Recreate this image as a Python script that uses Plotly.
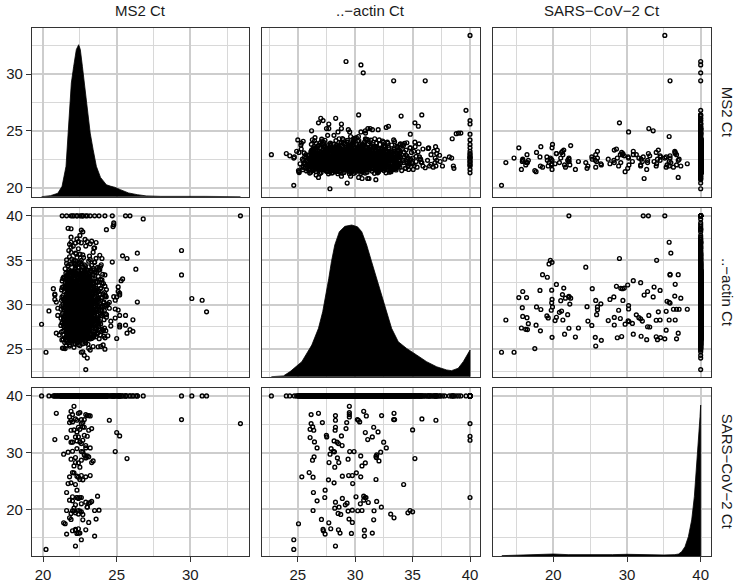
import plotly.graph_objects as go

FONT = "Liberation Sans, Arial, Helvetica, sans-serif"

# ---------------- data ----------------
var_labels = ["MS2 Ct", "..\u2212actin Ct", "SARS\u2212CoV\u22122 Ct"]

# samples with a SARS-CoV-2 signal (Ct < 40)
pos_actin = [
    26.16, 26.80, 27.14, 28.28, 28.28, 29.49, 29.49, 29.49, 29.49, 30.74,
    30.97, 30.19, 30.28, 30.39, 32.30, 33.38, 33.35, 33.43, 35.81, 37.03,
    40.0, 26.16, 26.30, 26.07, 26.39, 26.07, 26.45, 26.68, 27.49, 27.52,
    28.28, 28.25, 28.16, 28.80, 29.26, 29.20, 28.42, 28.54, 28.86, 31.61,
    31.99, 30.88, 31.09, 31.49, 32.48, 32.71, 35.00, 40.0, 40.0, 27.90,
    28.10, 28.19, 27.81, 27.72, 28.45, 28.57, 28.22, 29.52, 29.90, 29.38,
    30.48, 30.88, 30.59, 31.87, 31.84, 32.07, 32.22, 31.81, 35.20, 26.28,
    26.42, 25.99, 25.35, 26.33, 27.67, 28.16, 28.88, 29.43, 29.75, 30.10,
    30.48, 29.78, 31.81, 34.22, 26.36, 27.38, 26.68, 27.35, 26.33, 28.28,
    28.22, 28.88, 28.59, 29.14, 29.29, 29.38, 28.51, 28.74, 29.75, 30.07,
    30.74, 30.86, 30.94, 30.74, 30.45, 31.14, 30.22, 30.59, 31.87, 31.64,
    32.28, 31.61, 33.09, 33.38, 34.59, 34.77, 35.00, 40.0, 27.06, 27.70,
    27.20, 27.23, 27.38, 27.87, 28.54, 28.68, 29.46, 29.75, 29.67, 30.80,
    30.80, 31.49, 25.06, 24.65, 24.65, 28.28]
pos_sars = [
    36.72, 36.95, 35.31, 36.54, 35.72, 38.18, 37.07, 36.72, 36.30, 37.30,
    36.48, 35.84, 35.72, 35.43, 36.54, 36.95, 35.84, 35.84, 35.95, 35.72,
    35.13, 35.13, 34.55, 34.13, 33.96, 32.67, 31.91, 30.85, 33.08, 32.79,
    34.49, 33.96, 32.08, 32.96, 35.31, 34.25, 31.85, 31.61, 31.26, 34.49,
    33.67, 33.55, 32.32, 32.79, 31.85, 30.85, 34.02, 32.90, 32.20, 30.73,
    30.26, 30.15, 29.74, 28.27, 29.09, 28.27, 27.45, 30.21, 30.21, 28.86,
    29.44, 28.21, 27.68, 29.62, 29.15, 28.56, 30.09, 29.38, 28.97, 28.68,
    29.27, 26.51, 25.75, 25.69, 25.22, 24.69, 25.87, 25.98, 25.98, 26.45,
    25.75, 24.57, 25.28, 24.40, 22.99, 23.40, 21.52, 22.11, 19.82, 21.29,
    20.23, 21.94, 20.41, 20.82, 21.11, 19.71, 19.30, 19.12, 19.88, 22.23,
    22.35, 22.11, 22.11, 21.64, 21.00, 21.23, 19.77, 19.82, 21.41, 19.77,
    20.41, 18.18, 19.18, 18.53, 19.41, 19.82, 19.59, 22.11, 18.24, 17.65,
    16.48, 16.25, 15.66, 16.60, 16.42, 15.84, 18.30, 17.71, 15.78, 16.36,
    15.31, 15.84, 17.48, 14.66, 12.96, 13.55]
pos_ms2 = [
    22.0, 20.9, 21.8, 23.0, 22.3, 22.1, 22.5, 22.9, 21.8, 21.9,
    23.2, 22.6, 24.5, 22.0, 23.1, 22.4, 29.4, 22.8, 22.2, 21.9,
    33.4, 22.6, 22.7, 22.5, 23.1, 21.6, 22.5, 22.9, 22.8, 22.2,
    22.4, 21.9, 22.3, 25.2, 22.7, 23.3, 22.0, 22.6, 22.9, 22.8,
    22.3, 25.0, 20.8, 22.4, 21.9, 23.2, 22.1, 23.0, 22.7, 22.3,
    22.0, 22.7, 21.4, 22.2, 22.9, 23.3, 22.5, 24.9, 22.6, 21.9,
    23.0, 22.4, 22.1, 22.8, 22.2, 23.4, 21.7, 22.9, 25.7, 22.6,
    23.1, 22.0, 21.8, 22.4, 22.7, 21.9, 22.3, 23.2, 22.6, 22.1,
    22.9, 21.7, 22.5, 22.2, 21.6, 22.3, 22.0, 22.6, 21.6, 22.9,
    22.1, 22.4, 23.0, 22.2, 23.1, 22.5, 21.9, 22.7, 23.8, 22.0,
    23.7, 22.3, 22.5, 21.8, 22.6, 23.2, 22.1, 22.4, 23.3, 22.0,
    23.0, 22.7, 22.4, 21.8, 22.2, 23.5, 22.6, 22.3, 21.9, 21.4,
    22.2, 22.0, 21.6, 22.4, 22.9, 22.5, 23.6, 23.1, 22.3, 22.2,
    23.5, 22.4, 21.5, 22.6, 20.2, 22.2]

# samples without a SARS-CoV-2 signal (Ct = 40): spread and outliers
neg_ms2 = [
    22.9, 23.0, 22.8, 22.7, 21.4, 23.2,
    22.1, 22.5, 21.8, 23.4, 22.9, 22.3, 21.6, 22.7, 22.0, 23.1, 22.4, 24.2,
    25.0, 21.1, 23.9, 25.7, 22.2, 22.6, 21.9, 22.8, 23.3, 22.4, 21.7, 22.1, 23.0,
    22.5, 22.3, 21.5, 23.6, 22.0, 22.7, 22.9, 21.8, 22.45, 23.2, 22.2, 24.4,
    26.1, 25.9, 25.2, 25.2, 19.9, 25.6, 22.3, 22.6, 21.9, 22.8, 23.1, 22.0, 22.5,
    21.6, 23.4, 22.2, 22.7, 21.8, 22.4, 23.0, 22.1, 22.9, 21.7, 23.6, 22.35, 22.65,
    21.5, 22.85, 23.25, 22.05, 24.1, 24.6, 22.55, 21.95, 22.25, 23.8, 22.75, 21.45,
    26.1, 25.6, 21.0, 24.9, 22.4, 22.7, 22.1, 22.9, 21.8, 22.5, 23.2, 22.2, 22.6,
    21.6, 23.0, 22.3, 22.8, 21.9, 23.5, 22.45, 22.05, 22.65, 23.3, 21.7, 22.95,
    22.15, 22.55, 23.7, 22.35, 21.55, 22.85, 23.1, 22.25, 21.85, 24.3, 22.5, 23.9,
    22.0, 22.75, 21.4, 23.4, 22.6, 24.6, 22.4, 21.95,
    20.4, 21.0, 31.1, 22.3, 22.6, 22.0, 22.9, 21.7, 22.4, 23.2, 22.1, 22.7, 21.9,
    22.5, 23.0, 22.2, 22.8, 21.6, 23.4, 22.35, 22.65, 22.05, 23.1, 21.8, 22.45,
    22.95, 22.15, 23.6, 22.55, 21.5, 22.85, 22.25, 23.3, 22.75, 21.95, 24.0, 22.6,
    24.5, 22.4, 23.8, 22.1, 21.75, 23.05, 22.3, 24.2, 25.1, 22.9, 22.5,
    20.9, 20.8, 24.8, 24.9, 26.4, 30.1, 30.8, 22.4, 22.7, 22.1, 22.9, 21.8, 22.5,
    23.2, 22.2, 22.6, 21.7, 23.0, 22.3, 22.8, 21.9, 23.4, 22.45, 22.05, 22.65,
    23.1, 21.6, 22.95, 22.15, 22.55, 23.6, 22.35, 21.85, 22.85, 23.3, 22.25, 24.1,
    23.8, 22.5, 21.5, 22.75, 24.4, 22.0, 23.5,
    20.7, 20.8, 25.1, 25.2, 25.2, 22.3, 22.6, 22.0, 22.9, 21.7, 22.4, 23.2, 22.1,
    22.7, 21.9, 22.5, 23.0, 22.2, 22.8, 21.6, 23.4, 22.35, 22.65, 22.05, 23.1,
    22.45, 22.95, 21.8, 23.7, 22.55, 24.3, 22.15, 22.85, 23.9, 22.4,
    25.1, 25.3, 25.4, 22.4, 22.7, 22.1, 22.9, 21.8, 22.5, 23.2, 22.2, 22.6, 23.0,
    22.3, 21.7, 22.8, 23.4, 22.0, 22.45, 23.1, 22.65, 21.9, 23.6, 24.0, 22.35,
    22.4, 22.7, 22.1, 22.9, 21.8, 22.5, 23.2, 22.2, 22.6, 23.0, 22.3, 23.5, 21.6,
    22.8, 24.2, 23.8, 22.0,
    26.3, 24.7, 23.9, 22.4, 22.8, 22.1, 23.1, 21.7, 22.6, 23.4,
    25.4, 26.4, 24.0, 22.3, 22.7, 21.9, 23.2, 22.5,
    29.4, 22.4, 22.9, 21.8, 23.5, 22.2,
    23.0, 23.3, 23.6, 21.9, 22.5, 22.3,
    21.7, 22.6, 22.7, 24.3, 24.8, 24.75, 26.8, 21.9, 24.8,
    21.3, 21.6, 21.9, 22.1, 22.3, 22.5, 22.7, 22.9, 23.2, 23.5, 23.8, 24.2, 24.7,
    25.6, 25.9, 22.0, 22.6]
neg_actin = [
    22.7, 24.0, 24.3, 24.7, 25.1, 24.9,
    25.2, 25.4, 25.5, 25.3, 25.7, 25.8, 25.9, 25.6, 25.95, 25.1, 25.5, 25.0,
    26.2, 26.6, 26.6, 26.8, 26.1, 26.3, 26.4, 26.5, 26.2, 26.7, 26.9, 26.05, 26.75,
    26.55, 26.85, 26.3, 26.4, 26.6, 26.95, 26.15, 26.45, 26.25, 26.9, 26.7, 26.5,
    27.0, 27.2, 27.5, 27.7, 27.8, 27.7, 27.1, 27.3, 27.4, 27.05, 27.6, 27.8, 27.9,
    27.25, 27.45, 27.65, 27.15, 27.85, 27.55, 27.35, 27.95, 27.75, 27.6, 27.2, 27.0, 27.5,
    27.9, 27.3, 27.8, 27.45, 27.1, 27.6, 27.7, 27.15, 27.35, 27.9, 27.95, 27.55,
    28.3, 28.8, 28.8, 28.5, 28.1, 28.2, 28.4, 28.6, 28.7, 28.9, 28.3, 28.55, 28.75,
    28.15, 28.45, 28.65, 28.05, 28.85, 28.25, 28.95, 28.35, 28.5, 28.8, 28.6, 28.9,
    28.2, 28.7, 28.4, 28.0, 28.45, 28.3, 28.65, 28.85, 28.1, 28.6, 28.25, 28.95,
    28.55, 28.4, 28.3, 28.05, 28.95, 28.15, 28.7, 28.75,
    29.3, 29.6, 29.2, 29.1, 29.2, 29.4, 29.5, 29.7, 29.8, 29.9, 29.05, 29.35, 29.55,
    29.65, 29.75, 29.95, 29.15, 29.45, 29.25, 29.85, 29.0, 29.6, 29.4, 29.9, 29.5,
    29.7, 29.3, 29.55, 29.1, 29.8, 29.95, 29.2, 29.65, 29.45, 29.05, 29.3, 29.85,
    29.6, 29.25, 29.9, 29.7, 29.35, 29.15, 29.55, 29.8, 29.4, 29.0, 29.9,
    30.3, 30.6, 30.9, 30.5, 30.3, 30.7, 30.5, 30.1, 30.2, 30.4, 30.6, 30.8, 30.95,
    30.05, 30.35, 30.55, 30.75, 30.15, 30.45, 30.65, 30.85, 30.25, 30.0, 30.5, 30.7,
    30.9, 30.2, 30.4, 30.6, 30.8, 30.55, 30.95, 30.1, 30.3, 30.75, 30.45, 30.2,
    30.65, 30.35, 30.55, 30.85, 30.1, 30.7, 30.4,
    31.8, 31.2, 31.5, 31.1, 31.3, 31.05, 31.2, 31.4, 31.6, 31.8, 31.95, 31.15, 31.35,
    31.55, 31.75, 31.9, 31.1, 31.3, 31.5, 31.7, 31.25, 31.45, 31.65, 31.85, 31.0,
    31.6, 31.8, 31.15, 31.4, 31.95, 31.7, 31.55, 31.25, 31.85, 31.35,
    32.0, 32.7, 32.9, 32.1, 32.3, 32.5, 32.7, 32.9, 32.2, 32.4, 32.6, 32.8, 32.05,
    32.35, 32.55, 32.75, 32.95, 32.15, 32.45, 32.65, 32.85, 32.25, 32.5, 32.8, 32.95,
    33.1, 33.3, 33.5, 33.7, 33.9, 33.2, 33.4, 33.6, 33.8, 33.05, 33.45, 33.65, 33.25,
    33.85, 33.35, 33.95, 33.75,
    34.0, 34.8, 34.3, 34.2, 34.5, 34.7, 34.9, 34.4, 34.6, 34.1,
    35.5, 35.8, 35.2, 35.3, 35.6, 35.9, 35.1, 35.7,
    36.1, 36.3, 36.6, 36.8, 36.4, 36.95,
    37.1, 37.15, 37.0, 37.6, 37.8, 37.4,
    38.6, 38.4, 38.2, 38.45, 39.0, 38.8, 39.65, 38.55, 39.2,
    40.0, 40.0, 40.0, 40.0, 40.0, 40.0, 40.0, 40.0, 40.0, 40.0, 40.0, 40.0, 40.0,
    40.0, 40.0, 40.0, 40.0]

# more Ct = 40 samples from the dense centre of the cloud
core_ms2 = [
    22.18, 22.64, 21.92, 23.05, 22.41, 21.71, 22.87, 22.29,
    22.33, 21.86, 22.71, 23.18, 22.05, 22.52, 21.67, 22.94, 22.26, 23.42, 21.98, 22.61,
    22.44, 21.78, 22.83, 22.16, 23.27, 22.58, 21.95, 22.69, 23.08, 22.31, 21.59, 22.97,
    22.22, 23.51, 22.49, 21.88,
    22.36, 22.78, 21.84, 23.12, 22.57, 22.09, 22.91, 21.69, 22.43, 23.34, 22.19, 22.66,
    21.97, 23.03, 22.52, 21.76, 22.87, 22.28, 23.61, 22.01,
    22.47, 21.91, 22.73, 23.16, 22.24, 22.62, 21.73, 22.98, 22.35, 23.41, 22.06, 22.81,
    21.62, 22.55, 23.07, 22.17, 22.69, 21.87, 23.28, 22.42, 21.99, 22.89, 23.73, 22.31,
    22.38, 22.81, 21.94, 23.11, 22.56, 22.13, 22.92, 21.74, 22.47, 23.36, 22.21, 22.68,
    21.83, 23.02, 22.53, 22.04, 22.86, 21.66, 23.22, 22.44, 22.77, 21.96, 23.54, 22.28,
    22.63, 22.09,
    22.42, 21.89, 22.76, 23.19, 22.27, 22.61, 21.78, 22.99, 22.33, 23.44, 22.08, 22.84,
    21.68, 22.51, 23.09, 22.16, 22.72, 21.92, 23.31, 22.46, 22.02, 22.93, 23.67, 22.37,
    21.81, 22.64, 23.13, 22.24,
    22.35, 22.79, 21.93, 23.14, 22.58, 22.11, 22.94, 21.72, 22.48, 23.38, 22.19, 22.67,
    21.85, 23.04, 22.54, 22.03, 22.88, 21.64, 23.24, 22.43, 22.76, 21.97, 23.58, 22.29,
    22.62, 22.07, 23.01, 22.39,
    22.46, 21.87, 22.74, 23.17, 22.26, 22.63, 21.76, 22.97, 22.34, 23.43, 22.06, 22.82,
    21.66, 22.56, 23.08, 22.14, 22.71, 21.91, 23.29, 22.41, 22.01, 22.91, 23.71, 22.32,
    21.79, 22.66, 23.12, 22.23,
    22.37, 22.83, 21.95, 23.13, 22.57, 22.12, 22.93, 21.73, 22.49, 23.37, 22.18, 22.69,
    21.84, 23.06, 22.52, 22.02, 22.87, 21.65, 23.23, 22.45, 22.78, 21.98, 23.56, 22.27,
    22.64, 22.08,
    22.48, 21.92, 22.72, 23.18, 22.23, 22.61, 21.74, 22.99, 22.36, 23.42, 22.07, 22.83,
    21.63, 22.54, 23.09, 22.16, 22.68, 21.88, 23.27, 22.43, 21.97, 22.88, 23.76, 22.31,
    22.39, 22.77, 21.86, 23.14, 22.56, 22.08, 22.92, 21.71, 22.44, 23.33, 22.21, 22.65,
    21.96, 23.04, 22.51, 21.79, 22.86, 22.27, 23.59, 22.02,
    22.45, 21.81, 22.84, 22.17, 23.26, 22.59, 21.94, 22.68, 23.07, 22.32, 21.62, 22.96,
    22.22, 23.49, 22.48, 21.89,
    22.34, 21.87, 22.72, 23.19, 22.06, 22.53, 21.68, 22.95, 22.27, 23.41, 21.99, 22.62,
    22.81, 22.14,
    22.43, 21.79, 22.86, 22.18, 23.28, 22.57, 21.97, 22.71, 23.06, 22.29, 22.64, 21.91,
    22.36, 22.78, 21.88, 23.12, 22.54, 22.09, 22.91, 21.73, 22.47,
    22.41, 21.93, 22.75, 23.21, 22.24, 22.66, 21.82,
    22.38, 22.87, 21.96, 23.11, 22.52, 22.17]
core_actin = [
    25.62, 25.78, 25.91, 25.55, 25.84, 25.68, 25.97, 25.73,
    26.08, 26.22, 26.35, 26.14, 26.41, 26.03, 26.28, 26.47, 26.19, 26.33, 26.11, 26.38,
    26.58, 26.72, 26.64, 26.87, 26.53, 26.91, 26.66, 26.79, 26.97, 26.61, 26.84, 26.56,
    26.93, 26.69, 26.76, 26.89,
    27.03, 27.18, 27.31, 27.09, 27.44, 27.22, 27.37, 27.13, 27.48, 27.26, 27.07, 27.41,
    27.16, 27.34, 27.02, 27.29, 27.46, 27.11, 27.38, 27.24,
    27.53, 27.68, 27.82, 27.57, 27.94, 27.61, 27.77, 27.88, 27.52, 27.72, 27.97, 27.64,
    27.83, 27.58, 27.91, 27.66, 27.79, 27.55, 27.86, 27.71, 27.98, 27.63, 27.81, 27.93,
    28.04, 28.17, 28.31, 28.08, 28.43, 28.22, 28.36, 28.12, 28.47, 28.26, 28.06, 28.39,
    28.15, 28.33, 28.02, 28.28, 28.45, 28.11, 28.37, 28.24, 28.49, 28.19, 28.41, 28.07,
    28.34, 28.21,
    28.53, 28.68, 28.82, 28.57, 28.94, 28.61, 28.77, 28.88, 28.52, 28.72, 28.97, 28.64,
    28.83, 28.58, 28.91, 28.66, 28.79, 28.55, 28.86, 28.71, 28.98, 28.63, 28.81, 28.93,
    28.59, 28.74, 28.67, 28.89,
    29.04, 29.18, 29.32, 29.08, 29.44, 29.22, 29.36, 29.12, 29.47, 29.26, 29.06, 29.39,
    29.16, 29.34, 29.02, 29.28, 29.46, 29.11, 29.37, 29.24, 29.49, 29.19, 29.41, 29.07,
    29.33, 29.21, 29.14, 29.43,
    29.53, 29.68, 29.82, 29.57, 29.94, 29.61, 29.77, 29.88, 29.52, 29.72, 29.97, 29.64,
    29.83, 29.58, 29.91, 29.66, 29.79, 29.55, 29.86, 29.71, 29.98, 29.63, 29.81, 29.93,
    29.59, 29.74, 29.67, 29.89,
    30.04, 30.17, 30.31, 30.08, 30.43, 30.22, 30.36, 30.12, 30.47, 30.26, 30.06, 30.39,
    30.15, 30.33, 30.02, 30.28, 30.45, 30.11, 30.37, 30.24, 30.49, 30.19, 30.41, 30.07,
    30.34, 30.21,
    30.53, 30.68, 30.82, 30.57, 30.94, 30.61, 30.77, 30.88, 30.52, 30.72, 30.97, 30.64,
    30.83, 30.58, 30.91, 30.66, 30.79, 30.55, 30.86, 30.71, 30.98, 30.63, 30.81, 30.93,
    31.03, 31.18, 31.31, 31.09, 31.44, 31.22, 31.37, 31.13, 31.48, 31.26, 31.07, 31.41,
    31.16, 31.34, 31.02, 31.29, 31.46, 31.11, 31.38, 31.24,
    31.58, 31.72, 31.64, 31.87, 31.53, 31.91, 31.66, 31.79, 31.97, 31.61, 31.84, 31.56,
    31.93, 31.69, 31.76, 31.89,
    32.08, 32.22, 32.35, 32.14, 32.41, 32.03, 32.28, 32.47, 32.19, 32.33, 32.11, 32.38,
    32.04, 32.26,
    32.58, 32.72, 32.64, 32.87, 32.53, 32.91, 32.66, 32.79, 32.97, 32.61, 32.84, 32.56,
    33.04, 33.18, 33.31, 33.09, 33.44, 33.22, 33.37, 33.13, 33.48,
    33.58, 33.72, 33.64, 33.87, 33.53, 33.91, 33.66,
    34.15, 34.38, 34.62, 34.27, 34.83, 34.51]

# Ct = 40 samples at the wide edges of the cloud
edge_ms2 = [
    21.32, 23.74, 21.58, 22.15, 23.92, 21.47, 22.83, 24.08,
    21.28, 23.81, 21.52, 24.12, 21.41, 23.63, 21.99, 23.96, 21.36, 24.21, 22.54, 23.47,
    21.63, 23.71, 21.24, 22.91,
    21.34, 23.86, 21.57, 24.17, 21.44, 23.68, 22.03, 23.91, 21.29, 24.26, 22.61, 23.52,
    21.68, 23.77, 21.21, 22.97, 21.49, 24.02, 22.36, 23.58,
    21.31, 23.83, 21.54, 24.14, 21.42, 23.66, 22.01, 23.94, 21.27, 24.23, 22.58, 23.49,
    21.65, 23.74, 21.22, 22.94, 21.46, 23.99, 22.33, 23.56, 21.38, 24.31,
    21.33, 23.88, 21.56, 24.16, 21.43, 23.69, 22.04, 23.93, 21.26, 24.27, 22.62, 23.51,
    21.67, 23.78, 21.23, 22.96, 21.48, 24.04, 22.37, 23.59, 21.39, 24.33,
    21.35, 23.84, 21.53, 24.13, 21.45, 23.67, 22.02, 23.95, 21.28, 24.24, 22.59, 23.48,
    21.66, 23.75, 21.25, 22.95, 21.47, 24.01, 22.34, 23.57, 21.37, 24.29,
    21.36, 23.87, 21.59, 24.18, 21.44, 23.62, 22.05, 23.92, 21.3, 24.22, 22.63, 23.53,
    21.69, 23.79, 21.26, 22.98, 21.5, 24.06, 22.38, 23.61,
    21.4, 23.8, 21.6, 24.1, 21.5, 23.6, 22.0, 23.9, 21.35, 24.2, 22.6, 23.45,
    21.7, 23.7, 21.3, 22.9, 21.55, 24.0,
    21.45, 23.75, 21.65, 24.05, 21.55, 23.55, 22.1, 23.85, 21.4, 22.65, 23.4, 21.75,
    23.65, 22.95,
    21.5, 23.7, 21.7, 23.95, 21.6, 23.5, 22.2, 23.8, 22.7, 23.3, 21.85, 22.45,
    21.6, 23.6, 21.8, 23.85, 22.25, 23.4, 21.95, 22.75, 23.15, 22.5,
    21.75, 23.45, 22.05, 23.2, 22.4, 22.85, 21.9, 22.6]
edge_actin = [
    25.12, 25.27, 25.43, 25.58, 25.31, 25.76, 25.89, 25.47,
    26.04, 26.18, 26.31, 26.46, 26.59, 26.72, 26.85, 26.97, 26.12, 26.27, 26.39, 26.53,
    26.66, 26.81, 26.93, 26.44,
    27.03, 27.14, 27.26, 27.37, 27.49, 27.61, 27.72, 27.84, 27.95, 27.08, 27.19, 27.31,
    27.43, 27.55, 27.67, 27.78, 27.89, 27.23, 27.51, 27.81,
    28.02, 28.11, 28.21, 28.32, 28.43, 28.54, 28.65, 28.76, 28.87, 28.97, 28.06, 28.16,
    28.27, 28.38, 28.49, 28.59, 28.71, 28.82, 28.92, 28.35, 28.63, 28.89,
    29.03, 29.12, 29.22, 29.33, 29.44, 29.55, 29.66, 29.77, 29.88, 29.98, 29.07, 29.17,
    29.28, 29.39, 29.5, 29.6, 29.72, 29.83, 29.93, 29.36, 29.64, 29.9,
    30.02, 30.11, 30.21, 30.32, 30.43, 30.54, 30.65, 30.76, 30.87, 30.97, 30.06, 30.16,
    30.27, 30.38, 30.49, 30.59, 30.71, 30.82, 30.92, 30.35, 30.63, 30.89,
    31.03, 31.14, 31.26, 31.37, 31.49, 31.61, 31.72, 31.84, 31.95, 31.08, 31.19, 31.31,
    31.43, 31.55, 31.67, 31.78, 31.89, 31.23, 31.51, 31.81,
    32.04, 32.15, 32.27, 32.38, 32.5, 32.62, 32.73, 32.85, 32.96, 32.09, 32.2, 32.32,
    32.44, 32.56, 32.68, 32.79, 32.9, 32.47,
    33.06, 33.18, 33.31, 33.43, 33.56, 33.68, 33.81, 33.93, 33.12, 33.25, 33.37, 33.5,
    33.62, 33.87,
    34.05, 34.2, 34.35, 34.5, 34.65, 34.8, 34.95, 34.12, 34.28, 34.43, 34.58, 34.73,
    35.05, 35.22, 35.39, 35.56, 35.73, 35.9, 35.14, 35.31, 35.48, 35.65,
    36.1, 36.35, 36.6, 36.85, 37.1, 37.35, 36.48, 36.97]

# further Ct = 40 samples that fill the solid black part of the cloud
fill_ms2 = [
    21.52, 22.07, 22.61, 23.14, 21.79, 22.34, 22.88, 23.41, 21.96, 22.5, 23.03,
    21.63, 22.18, 22.72, 23.26, 21.9, 22.45, 22.99, 23.52, 22.12, 22.66, 23.2,
    21.57, 22.11, 22.65, 23.09, 21.84, 22.39, 22.93, 23.36, 22.01, 22.55, 22.98,
    21.68, 22.22, 22.77, 23.31, 21.86, 22.41, 23.04, 23.47, 22.16, 22.7, 23.24,
    21.52, 22.07, 22.61, 23.14, 21.79, 22.34, 22.88, 23.41, 21.96, 22.5, 23.03,
    21.63, 22.18, 22.72, 23.26, 21.9, 22.45, 22.99, 23.52, 22.12, 22.66, 23.2,
    21.57, 22.11, 22.65, 23.09, 21.84, 22.39, 22.93, 23.36, 22.01, 22.55, 22.98,
    21.68, 22.22, 22.77, 23.31, 21.86, 22.41, 23.04, 23.47, 22.16, 22.7, 23.24,
    21.52, 22.07, 22.61, 23.14, 21.79, 22.34, 22.88, 23.41, 21.96, 22.5, 23.03,
    21.63, 22.18, 22.72, 23.26, 21.9, 22.45, 22.99, 23.52, 22.12, 22.66, 23.2,
    21.57, 22.11, 22.65, 23.09, 21.84, 22.39, 22.93, 23.36, 22.01, 22.55, 22.98,
    21.68, 22.22, 22.77, 23.31, 21.86, 22.41, 23.04, 23.47, 22.16, 22.7, 23.24,
    21.52, 22.07, 22.61, 23.14, 21.79, 22.34, 22.88, 23.41, 21.96, 22.5, 23.03,
    21.63, 22.18, 22.72, 23.26, 21.9, 22.45, 22.99, 23.52, 22.12, 22.66, 23.2,
    21.57, 22.11, 22.65, 23.09, 21.84, 22.39, 22.93, 23.36, 22.01, 22.55, 22.98,
    21.68, 22.22, 22.77, 23.31, 21.86, 22.41, 23.04, 23.47, 22.16, 22.7, 23.24]
fill_actin = [
    26.03, 26.09, 26.14, 26.2, 26.26, 26.31, 26.37, 26.42, 26.47, 26.06, 26.23,
    26.53, 26.59, 26.64, 26.7, 26.76, 26.81, 26.87, 26.92, 26.97, 26.56, 26.73,
    27.03, 27.09, 27.14, 27.2, 27.26, 27.31, 27.37, 27.42, 27.47, 27.06, 27.23,
    27.53, 27.59, 27.64, 27.7, 27.76, 27.81, 27.87, 27.92, 27.97, 27.56, 27.73,
    28.03, 28.09, 28.14, 28.2, 28.26, 28.31, 28.37, 28.42, 28.47, 28.06, 28.23,
    28.53, 28.59, 28.64, 28.7, 28.76, 28.81, 28.87, 28.92, 28.97, 28.56, 28.73,
    29.03, 29.09, 29.14, 29.2, 29.26, 29.31, 29.37, 29.42, 29.47, 29.06, 29.23,
    29.53, 29.59, 29.64, 29.7, 29.76, 29.81, 29.87, 29.92, 29.97, 29.56, 29.73,
    30.03, 30.09, 30.14, 30.2, 30.26, 30.31, 30.37, 30.42, 30.47, 30.06, 30.23,
    30.53, 30.59, 30.64, 30.7, 30.76, 30.81, 30.87, 30.92, 30.97, 30.56, 30.73,
    31.03, 31.09, 31.14, 31.2, 31.26, 31.31, 31.37, 31.42, 31.47, 31.06, 31.23,
    31.53, 31.59, 31.64, 31.7, 31.76, 31.81, 31.87, 31.92, 31.97, 31.56, 31.73,
    32.03, 32.09, 32.14, 32.2, 32.26, 32.31, 32.37, 32.42, 32.47, 32.06, 32.23,
    32.53, 32.59, 32.64, 32.7, 32.76, 32.81, 32.87, 32.92, 32.97, 32.56, 32.73,
    33.03, 33.09, 33.14, 33.2, 33.26, 33.31, 33.37, 33.42, 33.47, 33.06, 33.23,
    33.53, 33.59, 33.64, 33.7, 33.76, 33.81, 33.87, 33.92, 33.97, 33.56, 33.73]
neg_sars_value = 40.0

# diagonal density curves, heights read against each row's own axis
ms2_dens_x = [19.9, 20.5, 21.0, 21.29, 21.56, 21.7, 21.83, 21.92, 22.08, 22.26,
              22.42, 22.53, 22.67, 22.8, 22.92, 23.05, 23.2, 23.4, 23.62, 23.9,
              24.3, 24.6, 24.9, 25.25, 25.8, 26.4, 27.0, 28.0, 29.5, 31.0, 33.4]
ms2_dens_y = [19.2, 19.29, 19.5, 20.11, 21.87, 24.8, 27.74, 29.21, 30.68, 32.15,
              32.58, 32.15, 30.68, 29.21, 27.74, 26.27, 24.8, 23.34, 21.87, 20.9,
              20.25, 20.12, 20.02, 19.82, 19.53, 19.38, 19.27, 19.23, 19.24, 19.23, 19.2]
actin_dens_x = [22.7, 23.75, 24.33, 25.35, 26.22, 26.80, 27.17, 27.46, 27.70, 27.93,
                28.22, 28.62, 29.1, 29.7, 30.2, 30.57, 31.0, 31.43, 31.87, 32.28,
                32.74, 33.17, 33.75, 34.48, 35.35, 36.22, 37.09, 37.96, 38.39, 38.97,
                39.41, 39.75, 40.0, 40.0]
actin_dens_y = [21.9, 21.99, 22.47, 23.59, 25.46, 27.34, 29.21, 31.09, 32.97, 34.84,
                36.72, 38.22, 38.82, 38.97, 38.77, 38.22, 36.72, 34.84, 32.97, 31.09,
                29.21, 27.34, 25.84, 25.08, 24.34, 23.59, 23.02, 22.66, 22.58, 22.85,
                23.59, 24.34, 24.89, 21.9]
sars_dens_x = [13.0, 16.0, 18.0, 20.0, 22.0, 25.0, 28.0, 30.0, 32.0, 35.0, 36.5,
               37.0, 37.42, 37.87, 38.33, 38.78, 39.14, 39.46, 39.68, 39.91, 40.0, 40.0]
sars_dens_y = [11.86, 11.95, 12.04, 12.15, 12.04, 11.98, 12.04, 12.1, 12.01, 11.98, 12.04,
               12.15, 12.57, 13.45, 15.2, 18.15, 22.26, 27.55, 31.66, 36.36, 38.4, 11.8]

# tick values
ms2_ticks = [20, 25, 30]
actin_ticks = [25, 30, 35, 40]
sars_ticks = [20, 30, 40]

# ---------------- assemble ----------------
neg_count = len(neg_ms2) + len(core_ms2) + len(edge_ms2) + len(fill_ms2)
ms2 = pos_ms2 + neg_ms2 + core_ms2 + edge_ms2 + fill_ms2
actin = pos_actin + neg_actin + core_actin + edge_actin + fill_actin
sars = pos_sars + [neg_sars_value] * neg_count
values = [ms2, actin, sars]
densities = [(ms2_dens_x, ms2_dens_y), (actin_dens_x, actin_dens_y),
             (sars_dens_x, sars_dens_y)]

axis_cfg = [
    dict(xr=[19.25, 34.0], yr=[19.2, 34.05], ticks=ms2_ticks, minor=[22.5, 27.5, 32.5]),
    dict(xr=[21.88, 40.87], yr=[21.9, 40.85], ticks=actin_ticks, minor=[22.5, 27.5, 32.5, 37.5]),
    dict(xr=[11.8, 41.4], yr=[11.8, 41.35], ticks=sars_ticks, minor=[15, 25, 35]),
]

col_dom = [[0.0, 0.3200], [0.3387, 0.6598], [0.6789, 1.0]]
row_dom = [[0.6805, 1.0], [0.3396, 0.6585], [0.0, 0.3176]]

BORDER = "#333333"
GRID = "#cdcdcd"
GRID_MINOR = "#d8d8d8"
TEXT = "#1a1a1a"


def sfx(k):
    return "" if k == 1 else str(k)


fig = go.Figure()
layout_axes = {}

for r in range(3):
    for c in range(3):
        k = r * 3 + c + 1
        if r != c:
            fig.add_trace(go.Scatter(
                x=values[c], y=values[r], mode="markers",
                marker=dict(symbol="circle-open", size=3.8, color="black",
                            line=dict(width=1.4, color="black")),
                xaxis="x" + sfx(k), yaxis="y" + sfx(k),
                showlegend=False, hoverinfo="skip"))
        else:
            dx, dy = densities[r]
            fig.add_trace(go.Scatter(
                x=dx, y=dy, mode="lines", fill="tozeroy", fillcolor="black",
                line=dict(color="black", width=0.8),
                xaxis="x" + sfx(k), yaxis="y" + sfx(k),
                showlegend=False, hoverinfo="skip"))

        show_x = (r == 2)
        show_y = (c == 0)
        xc = axis_cfg[c]
        yc = axis_cfg[r]
        common = dict(showgrid=True, gridcolor=GRID, gridwidth=2, zeroline=False,
                      showline=True, mirror=True, linecolor=BORDER, linewidth=1.2,
                      tickmode="array", ticklen=5, tickwidth=1.2, tickcolor=BORDER,
                      tickfont=dict(family=FONT, size=15, color=TEXT),
                      automargin=False, fixedrange=True)
        layout_axes["xaxis" + sfx(k)] = dict(
            common, domain=col_dom[c], anchor="y" + sfx(k), range=xc["xr"],
            tickvals=xc["ticks"], ticks="outside" if show_x else "",
            showticklabels=show_x,
            minor=dict(tickmode="array", tickvals=xc["minor"], showgrid=True,
                       gridcolor=GRID_MINOR, gridwidth=1, ticks=""))
        layout_axes["yaxis" + sfx(k)] = dict(
            common, domain=row_dom[r], anchor="x" + sfx(k), range=yc["yr"],
            tickvals=yc["ticks"], ticks="outside" if show_y else "",
            showticklabels=show_y,
            minor=dict(tickmode="array", tickvals=yc["minor"], showgrid=True,
                       gridcolor=GRID_MINOR, gridwidth=1, ticks=""))

annotations = []
for c in range(3):
    annotations.append(dict(text=var_labels[c], xref="paper", yref="paper",
                            x=(col_dom[c][0] + col_dom[c][1]) / 2, y=1.034,
                            xanchor="center", yanchor="middle", showarrow=False,
                            font=dict(family=FONT, size=15, color=TEXT)))
for r in range(3):
    annotations.append(dict(text=var_labels[r], xref="paper", yref="paper",
                            x=1.0243, y=(row_dom[r][0] + row_dom[r][1]) / 2,
                            xanchor="center", yanchor="middle", showarrow=False,
                            textangle=90,
                            font=dict(family=FONT, size=15, color=TEXT)))

fig.update_layout(
    width=737, height=582,
    margin=dict(l=32, r=26, t=28, b=26, pad=0, autoexpand=False),
    paper_bgcolor="white", plot_bgcolor="white",
    showlegend=False, annotations=annotations,
    **layout_axes)

# drop the browser's default page margin so the figure sits at the window corner
fig.write_html("out.html", config={"displayModeBar": False},
               post_script="document.body.style.margin='0';"
                           "document.body.style.padding='0';"
                           "document.body.style.overflow='hidden';")
